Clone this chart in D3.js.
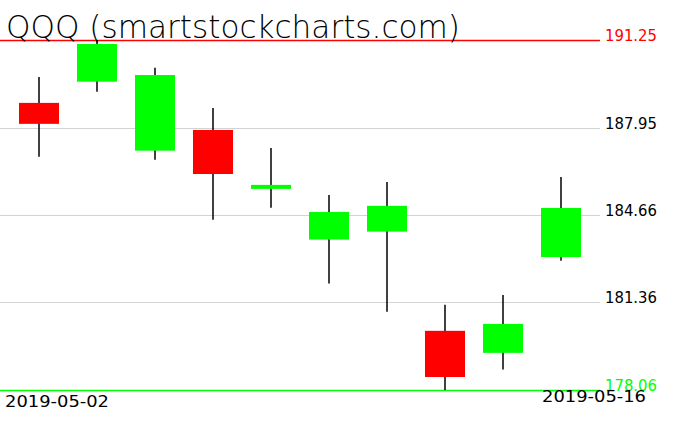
<!DOCTYPE html>
<html>
<head>
<meta charset="utf-8">
<script src="https://cdn.jsdelivr.net/npm/d3@7/dist/d3.min.js"></script>
<style>
  html, body { margin: 0; padding: 0; background: #fff; }
  svg { display: block; }
  text { font-family: "DejaVu Sans", sans-serif; }
</style>
</head>
<body>
<svg id="chart" width="676" height="431"></svg>
<script>
// ---- data ----
const title = "QQQ (smartstockcharts.com)";
const dates = ["2019-05-03","2019-05-06","2019-05-07","2019-05-08","2019-05-09",
               "2019-05-10","2019-05-13","2019-05-14","2019-05-15","2019-05-16"];
const opens  = [188.88, 189.68, 187.08, 187.86, 185.64, 183.73, 184.03, 180.29, 179.46, 183.07];
const highs  = [189.86, 191.25, 190.20, 188.69, 187.18, 185.41, 185.90, 181.27, 181.64, 186.09];
const lows   = [186.85, 189.30, 186.74, 184.48, 184.93, 182.07, 181.01, 178.06, 178.83, 182.93];
const closes = [188.09, 191.10, 189.93, 186.20, 185.79, 184.77, 185.00, 178.55, 180.55, 184.92];
const priceTicks = [191.25, 187.95, 184.66, 181.36, 178.06];
const dateLabels = ["2019-05-02", "2019-05-16"];

// ---- chart ----
const svg = d3.select("#chart");
const plotRight = 600;

const y = d3.scaleLinear().domain([178.06, 191.25]).range([390, 40]);
const x = d3.scaleBand().domain(dates).range([10, 590]).paddingInner(0.31).paddingOuter(0.155);

const candles = dates.map((d, i) => ({date: d, o: opens[i], h: highs[i], l: lows[i], c: closes[i]}));

// gridlines
const maxV = d3.max(priceTicks), minV = d3.min(priceTicks);
svg.append("g").selectAll("line").data(priceTicks).join("line")
  .attr("x1", 0).attr("x2", plotRight)
  .attr("y1", d => Math.round(y(d)) + 0.5).attr("y2", d => Math.round(y(d)) + 0.5)
  .attr("stroke", d => d === maxV ? "#ff0000" : d === minV ? "#00ff00" : "#d3d3d3")
  .attr("stroke-width", d => (d === maxV || d === minV) ? 1.3 : 1.2);

// wicks
svg.append("g").selectAll("line").data(candles).join("line")
  .attr("x1", d => x(d.date) + x.bandwidth() / 2)
  .attr("x2", d => x(d.date) + x.bandwidth() / 2)
  .attr("y1", d => y(d.h)).attr("y2", d => y(d.l))
  .attr("stroke", "#000").attr("stroke-width", 1.5);

// bodies
svg.append("g").selectAll("rect").data(candles).join("rect")
  .attr("x", d => x(d.date))
  .attr("width", x.bandwidth())
  .attr("y", d => y(Math.max(d.o, d.c)))
  .attr("height", d => Math.max(3, Math.abs(y(d.o) - y(d.c))))
  .attr("fill", d => d.c >= d.o ? "#00ff00" : "#ff0000");

// price labels
svg.append("g").selectAll("text").data(priceTicks).join("text")
  .attr("x", 605).attr("y", d => Math.round(y(d)) + 1)
  .attr("font-size", 15)
  .attr("textLength", 52).attr("lengthAdjust", "spacingAndGlyphs")
  .attr("fill", d => d === maxV ? "#ff0000" : d === minV ? "#00ff00" : "#000")
  .text(d => d.toFixed(2));

// date labels
svg.append("text").attr("x", 5).attr("y", 407)
  .attr("font-size", 16)
  .attr("textLength", 104).attr("lengthAdjust", "spacingAndGlyphs")
  .attr("fill", "#000").text(dateLabels[0]);
svg.append("text").attr("x", 542).attr("y", 402)
  .attr("font-size", 16)
  .attr("textLength", 104).attr("lengthAdjust", "spacingAndGlyphs")
  .attr("fill", "#000").text(dateLabels[1]);

// title
svg.append("text").attr("x", 6).attr("y", 38)
  .attr("font-size", 32).attr("font-weight", 200)
  .attr("textLength", 454).attr("lengthAdjust", "spacingAndGlyphs")
  .attr("fill", "#000").text(title);
</script>
</body>
</html>
